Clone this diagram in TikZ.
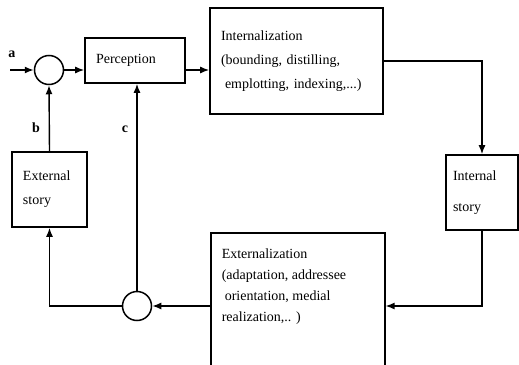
\documentclass[tikz,border=0pt]{standalone}
\usepackage{fontspec}
\setmainfont{Liberation Serif}
\usetikzlibrary{arrows.meta}

\begin{document}
\begin{tikzpicture}[x=1pt,y=-1pt,
  >={Latex[length=9pt,width=7pt]},
  every node/.style={font=\fontsize{14}{24}\selectfont},
  box/.style={draw,line width=1.6pt,inner xsep=11pt,align=left},
  sum/.style={draw,circle,line width=1.5pt,minimum size=29pt,inner sep=0pt},
  link/.style={draw,line width=1.4pt},
  lbl/.style={font=\bfseries\fontsize{14}{16}\selectfont}]
\useasboundingbox (0,0) rectangle (519,364);
\clip (0,0) rectangle (519,364);
\node[sum] (sum1) at (49,70) {};
\node[box,text width=78pt,minimum height=45pt] (perc) at (135,60.5) {Perception};
\node[box,text width=151pt,minimum height=106pt] (intl) at (296.5,61) {Internalization\\(bounding, distilling,\\\hspace{4pt}emplotting, indexing,...)};
\node[box,inner xsep=7pt,text width=58pt,minimum height=75pt,font=\fontsize{14}{31}\selectfont] (intst) at (482,192.5) {Internal\\story};
\node[box,text width=53pt,minimum height=75pt] (extst) at (49.5,189.5) {External\\story};
\node[box,inner ysep=16pt,anchor=north west] (extl) at (210,232) {\parbox[t][140pt][t]{152pt}{\fontsize{14}{21}\selectfont Externalization\\(adaptation, addressee\\\hspace*{3pt}orientation, medial\\realization,.. )}};
\node[sum] (sum2) at (137,306) {};
\coordinate (ain) at (10,70);
\node[lbl] (la) at (12,54) {a};
\node[lbl] (lb) at (36,128) {b};
\node[lbl] (lc) at (125,129) {c};
\path[link,->] (ain) -- (sum1.west);
\path[link,->] (sum1.east) -- (sum1.east -| perc.west);
\path[link,->] (sum1 -| perc.east) -- (sum1 -| intl.west);
\path[link,->] (intl.east) -| (intst.north);
\path[link,->] (intst.south) |- (sum2 -| extl.east);
\path[link,->] (sum2 -| extl.west) -- (sum2.east);
\path[link,->] (sum2.west) -| (extst.south);
\path[link,->] (sum2.north) -- (sum2.north |- perc.south);
\path[link,->] (extst.north) -- (sum1.south);
\end{tikzpicture}
\end{document}
